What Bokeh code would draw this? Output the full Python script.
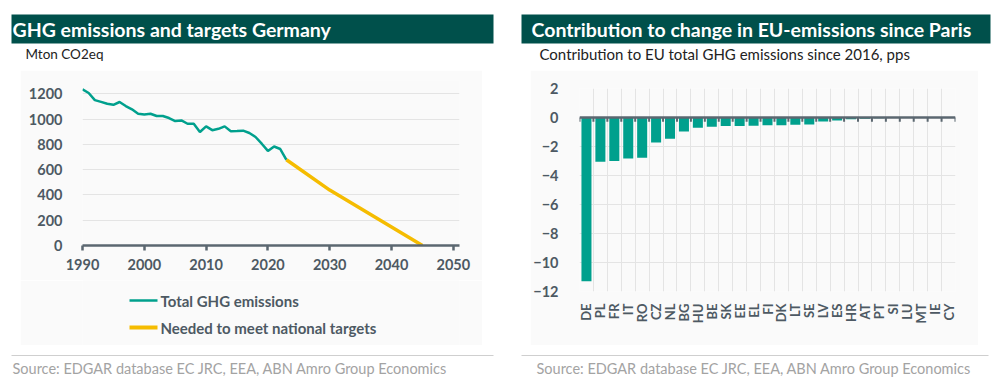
from math import pi
from bokeh.plotting import figure
from bokeh.models import Range1d, FixedTicker, Span, Spacer
from bokeh.layouts import row, column
from bokeh.embed import file_html
from bokeh.resources import INLINE
from bokeh.core.properties import value

# ---------------- data ----------------
years = list(range(1990, 2024))
emissions = [1235, 1206, 1150, 1136, 1121, 1113, 1135, 1103, 1077, 1042,
             1036, 1042, 1024, 1024, 1008, 984, 989, 963, 963, 898,
             942, 912, 923, 942, 903, 905, 908, 890, 858, 805,
             748, 783, 763, 678]
target_years = [2023, 2030, 2045]
target_values = [678, 438, 0]
x_ticks_left = [1990, 2000, 2010, 2020, 2030, 2040, 2050]
y_ticks_left = [0, 200, 400, 600, 800, 1000, 1200]

countries = ["DE", "PL", "FR", "IT", "RO", "CZ", "NL", "BG", "HU", "BE", "SK", "EE", "EL", "FI",
             "DK", "LT", "SE", "LV", "ES", "HR", "AT", "PT", "SI", "LU", "MT", "IE", "CY"]
contrib = [-11.3, -3.05, -3.0, -2.82, -2.78, -1.72, -1.46, -0.97, -0.70, -0.64, -0.58, -0.58, -0.57, -0.54,
           -0.53, -0.50, -0.48, -0.28, -0.20, -0.12, -0.08, -0.05, -0.03, -0.02, -0.01, 0.01, 0.04]
y_ticks_right = [-12, -10, -8, -6, -4, -2, 0, 2]

title_left = "GHG emissions and targets Germany"
subtitle_left = "Mton CO2eq"
title_right = "Contribution to change in EU-emissions since Paris"
subtitle_right = "Contribution to EU total GHG emissions since 2016, pps"
source_left = "Source: EDGAR database EC JRC, EEA, ABN Amro Group Economics"
source_right = "Source:  EDGAR database EC JRC, EEA, ABN Amro Group Economics"
legend_labels = ["Total GHG emissions", "Needed to meet national targets"]

# ---------------- style ----------------
FONT = "Lato"
BAR_DARK = "#00504b"
GREEN = "#00a08d"
YELLOW = "#f5bc00"
AXIS = "#5b6770"
LABEL = "#4d5963"
GRID = "#e4e4e4"
BG = "#fafafa"


def decor(width, height, bg="white"):
    f = figure(width=width, height=height, x_range=Range1d(0, width), y_range=Range1d(0, height),
               output_backend="svg", toolbar_location=None, min_border=0,
               x_axis_location=None, y_axis_location=None)
    f.grid.visible = False
    f.outline_line_color = None
    f.border_fill_color = bg
    f.background_fill_color = bg
    return f


def header(width, bar_l, bar_r, tx, title, sx, subtitle, sub_size):
    h = decor(width, 70)
    h.quad(left=[bar_l], right=[bar_r], bottom=[27], top=[56], color=BAR_DARK, line_color=None)
    h.text(x=[tx], y=[41.5], text=[title], text_color="white", text_font=value(FONT),
           text_font_style="bold", text_font_size="19.5px", text_baseline="middle")
    h.text(x=[sx], y=[17], text=[subtitle], text_color="#222222", text_font=value(FONT),
           text_font_size=sub_size, text_baseline="middle")
    return h


def footer(width, l, r, tx, txt):
    f = decor(width, 35)
    f.segment(x0=[l], y0=[25], x1=[r], y1=[25], line_color="#cfcfcf", line_width=1)
    f.text(x=[tx], y=[12], text=[txt], text_color="#a3a3a3", text_font=value(FONT),
           text_font_size="14.5px", text_baseline="middle")
    return f


def style_axes(p):
    for ax in p.axis:
        ax.major_label_text_font = FONT
        ax.major_label_text_font_style = "bold"
        ax.major_label_text_font_size = "14.5px"
        ax.major_label_text_color = LABEL
        ax.minor_tick_line_color = None


# ---------------- left chart ----------------
p1 = figure(width=462, height=210, x_range=Range1d(1990, 2051), y_range=Range1d(0, 1305),
            min_border_left=62, min_border_right=23, min_border_top=10, min_border_bottom=35,
            background_fill_color=BG, border_fill_color=BG, outline_line_color=None,
            output_backend="svg", toolbar_location=None)
p1.line(years, emissions, line_color=GREEN, line_width=2.5)
p1.line(target_years, target_values, line_color=YELLOW, line_width=3.5)
style_axes(p1)
p1.xaxis.ticker = FixedTicker(ticks=x_ticks_left)
p1.xaxis.axis_line_color = AXIS
p1.xaxis.axis_line_width = 2.5
p1.xaxis.major_tick_line_color = AXIS
p1.xaxis.major_tick_line_width = 2.5
p1.xaxis.major_tick_out = 5
p1.xaxis.major_tick_in = 0
p1.xaxis.major_label_standoff = 8
p1.yaxis.ticker = FixedTicker(ticks=y_ticks_left)
p1.yaxis.axis_line_color = None
p1.yaxis.major_tick_line_color = None
p1.yaxis.major_label_standoff = 14
p1.xgrid.grid_line_color = None
p1.ygrid.grid_line_color = GRID
p1.ygrid.ticker = FixedTicker(ticks=y_ticks_left)

# legend panel under the left chart (frame aligned with the chart frame)
lg = figure(width=462, height=65, x_range=Range1d(0, 377), y_range=Range1d(0, 65),
            min_border_left=62, min_border_right=23, min_border_top=0, min_border_bottom=0,
            x_axis_location=None, y_axis_location=None, background_fill_color=BG,
            border_fill_color=BG, outline_line_color=None, output_backend="svg",
            toolbar_location=None)
lg.grid.visible = False
lg.segment(x0=[47, 47], y0=[45, 18], x1=[75, 75], y1=[45, 18],
           line_color=[GREEN, YELLOW], line_width=[2.5, 4])
lg.text(x=[78, 78], y=[45, 18], text=legend_labels, text_color=LABEL, text_font=value(FONT),
        text_font_style="bold", text_font_size="15px", text_baseline="middle")

# ---------------- right chart ----------------
n = len(countries)
xs = [i + 0.5 for i in range(n)]
bounds = list(range(n + 1))

p2 = figure(width=448, height=275, x_range=Range1d(0, n), y_range=Range1d(-12, 2),
            min_border_left=48, min_border_right=23, min_border_top=18, min_border_bottom=54,
            background_fill_color=BG, border_fill_color=BG, outline_line_color=None,
            output_backend="svg", toolbar_location=None)
p2.vbar(x=xs, top=contrib, width=0.72, color=GREEN, line_color=None)
p2.add_layout(Span(location=0, dimension="width", line_color=AXIS, line_width=2.5))
p2.segment(x0=bounds, y0=[0] * len(bounds), x1=bounds, y1=[-0.3] * len(bounds),
           line_color=AXIS, line_width=2)
style_axes(p2)
p2.xaxis.ticker = FixedTicker(ticks=xs)
p2.xaxis.major_label_overrides = {x: c for x, c in zip(xs, countries)}
p2.xaxis.major_label_orientation = pi / 2
p2.xaxis.major_label_text_font_size = "13px"
p2.xaxis.axis_line_color = None
p2.xaxis.major_tick_line_color = None
p2.xaxis.major_label_standoff = 6
p2.yaxis.ticker = FixedTicker(ticks=y_ticks_right)
p2.yaxis.axis_line_color = None
p2.yaxis.major_tick_line_color = None
p2.yaxis.major_label_standoff = 15
p2.xgrid.ticker = FixedTicker(ticks=bounds)
p2.xgrid.grid_line_color = GRID
p2.ygrid.ticker = FixedTicker(ticks=y_ticks_right)
p2.ygrid.grid_line_color = GRID

# ---------------- layout ----------------
left_col = column(
    header(513, 11, 493, 12, title_left, 25, subtitle_left, "13.5px"),
    row(Spacer(width=20, height=275), column(p1, lg), Spacer(width=31, height=275)),
    footer(513, 11, 493, 12, source_left),
)
right_col = column(
    header(490, 8, 477, 18, title_right, 26, subtitle_right, "15px"),
    row(Spacer(width=17, height=275), p2, Spacer(width=25, height=275)),
    footer(490, 8, 475, 23, source_right),
)
layout = row(left_col, right_col)

open("out.html", "w").write(file_html(layout, INLINE))
